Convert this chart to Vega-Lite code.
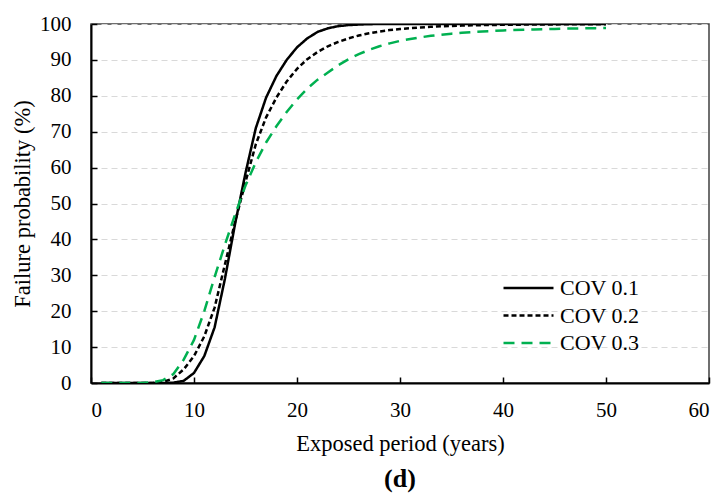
{
  "$schema": "https://vega.github.io/schema/vega-lite/v6.json",
  "width": 618,
  "height": 359,
  "autosize": {"type": "none"},
  "padding": {"left": 91, "top": 24, "right": 13, "bottom": 112},
  "background": "white",
  "title": {"text": "(d)", "orient": "bottom", "anchor": "middle", "frame": "group", "font": "Liberation Serif", "fontSize": 26, "fontWeight": "bold", "color": "black", "offset": 11},
  "config": {
    "view": {"stroke": "#404040", "strokeWidth": 1.5},
    "font": "Liberation Serif",
    "axis": {"labelFont": "Liberation Serif", "titleFont": "Liberation Serif", "labelColor": "black", "titleColor": "black", "labelFontSize": 21, "titleFontSize": 22.5, "titleFontWeight": "normal", "domainColor": "black", "domainWidth": 2, "tickColor": "black", "tickWidth": 1.5}
  },
  "data": {"values": [
    {"x":1,"p":0,"s":"COV 0.1"},{"x":2,"p":0,"s":"COV 0.1"},{"x":3,"p":0,"s":"COV 0.1"},{"x":4,"p":0,"s":"COV 0.1"},{"x":5,"p":0,"s":"COV 0.1"},{"x":6,"p":0,"s":"COV 0.1"},{"x":7,"p":0,"s":"COV 0.1"},{"x":8,"p":0.1,"s":"COV 0.1"},{"x":9,"p":0.6,"s":"COV 0.1"},{"x":10,"p":2.8,"s":"COV 0.1"},
    {"x":11,"p":7.5,"s":"COV 0.1"},{"x":12,"p":15.5,"s":"COV 0.1"},{"x":13,"p":29,"s":"COV 0.1"},{"x":14,"p":44.5,"s":"COV 0.1"},{"x":15,"p":58.5,"s":"COV 0.1"},{"x":16,"p":71,"s":"COV 0.1"},{"x":17,"p":79.5,"s":"COV 0.1"},{"x":18,"p":85.5,"s":"COV 0.1"},{"x":19,"p":90,"s":"COV 0.1"},{"x":20,"p":93.5,"s":"COV 0.1"},
    {"x":21,"p":96,"s":"COV 0.1"},{"x":22,"p":97.8,"s":"COV 0.1"},{"x":23,"p":98.8,"s":"COV 0.1"},{"x":24,"p":99.4,"s":"COV 0.1"},{"x":25,"p":99.7,"s":"COV 0.1"},{"x":26,"p":99.85,"s":"COV 0.1"},{"x":27,"p":99.95,"s":"COV 0.1"},{"x":28,"p":100,"s":"COV 0.1"},{"x":29,"p":100,"s":"COV 0.1"},{"x":30,"p":100,"s":"COV 0.1"},
    {"x":31,"p":100,"s":"COV 0.1"},{"x":32,"p":100,"s":"COV 0.1"},{"x":33,"p":100,"s":"COV 0.1"},{"x":34,"p":100,"s":"COV 0.1"},{"x":35,"p":100,"s":"COV 0.1"},{"x":36,"p":100,"s":"COV 0.1"},{"x":37,"p":100,"s":"COV 0.1"},{"x":38,"p":100,"s":"COV 0.1"},{"x":39,"p":100,"s":"COV 0.1"},{"x":40,"p":100,"s":"COV 0.1"},
    {"x":41,"p":100,"s":"COV 0.1"},{"x":42,"p":100,"s":"COV 0.1"},{"x":43,"p":100,"s":"COV 0.1"},{"x":44,"p":100,"s":"COV 0.1"},{"x":45,"p":100,"s":"COV 0.1"},{"x":46,"p":100,"s":"COV 0.1"},{"x":47,"p":100,"s":"COV 0.1"},{"x":48,"p":100,"s":"COV 0.1"},{"x":49,"p":100,"s":"COV 0.1"},{"x":50,"p":100,"s":"COV 0.1"},

    {"x":1,"p":0,"s":"COV 0.2"},{"x":2,"p":0,"s":"COV 0.2"},{"x":3,"p":0,"s":"COV 0.2"},{"x":4,"p":0,"s":"COV 0.2"},{"x":5,"p":0,"s":"COV 0.2"},{"x":6,"p":0,"s":"COV 0.2"},{"x":7,"p":0.3,"s":"COV 0.2"},{"x":8,"p":1.3,"s":"COV 0.2"},{"x":9,"p":3.8,"s":"COV 0.2"},{"x":10,"p":7.5,"s":"COV 0.2"},
    {"x":11,"p":13,"s":"COV 0.2"},{"x":12,"p":21,"s":"COV 0.2"},{"x":13,"p":33,"s":"COV 0.2"},{"x":14,"p":45,"s":"COV 0.2"},{"x":15,"p":56,"s":"COV 0.2"},{"x":16,"p":66.5,"s":"COV 0.2"},{"x":17,"p":74,"s":"COV 0.2"},{"x":18,"p":79.5,"s":"COV 0.2"},{"x":19,"p":84,"s":"COV 0.2"},{"x":20,"p":87.5,"s":"COV 0.2"},
    {"x":21,"p":90.2,"s":"COV 0.2"},{"x":22,"p":92.2,"s":"COV 0.2"},{"x":23,"p":93.8,"s":"COV 0.2"},{"x":24,"p":95,"s":"COV 0.2"},{"x":25,"p":96,"s":"COV 0.2"},{"x":26,"p":96.8,"s":"COV 0.2"},{"x":27,"p":97.4,"s":"COV 0.2"},{"x":28,"p":97.9,"s":"COV 0.2"},{"x":29,"p":98.3,"s":"COV 0.2"},{"x":30,"p":98.6,"s":"COV 0.2"},
    {"x":31,"p":98.85,"s":"COV 0.2"},{"x":32,"p":99.05,"s":"COV 0.2"},{"x":33,"p":99.2,"s":"COV 0.2"},{"x":34,"p":99.35,"s":"COV 0.2"},{"x":35,"p":99.45,"s":"COV 0.2"},{"x":36,"p":99.55,"s":"COV 0.2"},{"x":37,"p":99.62,"s":"COV 0.2"},{"x":38,"p":99.68,"s":"COV 0.2"},{"x":39,"p":99.73,"s":"COV 0.2"},{"x":40,"p":99.77,"s":"COV 0.2"},
    {"x":41,"p":99.8,"s":"COV 0.2"},{"x":42,"p":99.83,"s":"COV 0.2"},{"x":43,"p":99.85,"s":"COV 0.2"},{"x":44,"p":99.87,"s":"COV 0.2"},{"x":45,"p":99.89,"s":"COV 0.2"},{"x":46,"p":99.9,"s":"COV 0.2"},{"x":47,"p":99.91,"s":"COV 0.2"},{"x":48,"p":99.92,"s":"COV 0.2"},{"x":49,"p":99.93,"s":"COV 0.2"},{"x":50,"p":99.94,"s":"COV 0.2"},

    {"x":1,"p":0,"s":"COV 0.3"},{"x":2,"p":0,"s":"COV 0.3"},{"x":3,"p":0,"s":"COV 0.3"},{"x":4,"p":0,"s":"COV 0.3"},{"x":5,"p":0,"s":"COV 0.3"},{"x":6,"p":0.2,"s":"COV 0.3"},{"x":7,"p":0.8,"s":"COV 0.3"},{"x":8,"p":2.5,"s":"COV 0.3"},{"x":9,"p":6.5,"s":"COV 0.3"},{"x":10,"p":12,"s":"COV 0.3"},
    {"x":11,"p":20,"s":"COV 0.3"},{"x":12,"p":29.5,"s":"COV 0.3"},{"x":13,"p":38.5,"s":"COV 0.3"},{"x":14,"p":47,"s":"COV 0.3"},{"x":15,"p":55,"s":"COV 0.3"},{"x":16,"p":61.5,"s":"COV 0.3"},{"x":17,"p":67,"s":"COV 0.3"},{"x":18,"p":71.5,"s":"COV 0.3"},{"x":19,"p":75.5,"s":"COV 0.3"},{"x":20,"p":79,"s":"COV 0.3"},
    {"x":21,"p":82,"s":"COV 0.3"},{"x":22,"p":84.5,"s":"COV 0.3"},{"x":23,"p":86.5,"s":"COV 0.3"},{"x":24,"p":88.5,"s":"COV 0.3"},{"x":25,"p":90.2,"s":"COV 0.3"},{"x":26,"p":91.6,"s":"COV 0.3"},{"x":27,"p":92.8,"s":"COV 0.3"},{"x":28,"p":93.8,"s":"COV 0.3"},{"x":29,"p":94.6,"s":"COV 0.3"},{"x":30,"p":95.3,"s":"COV 0.3"},
    {"x":31,"p":95.8,"s":"COV 0.3"},{"x":32,"p":96.3,"s":"COV 0.3"},{"x":33,"p":96.7,"s":"COV 0.3"},{"x":34,"p":97,"s":"COV 0.3"},{"x":35,"p":97.3,"s":"COV 0.3"},{"x":36,"p":97.55,"s":"COV 0.3"},{"x":37,"p":97.75,"s":"COV 0.3"},{"x":38,"p":97.9,"s":"COV 0.3"},{"x":39,"p":98.05,"s":"COV 0.3"},{"x":40,"p":98.2,"s":"COV 0.3"},
    {"x":41,"p":98.3,"s":"COV 0.3"},{"x":42,"p":98.4,"s":"COV 0.3"},{"x":43,"p":98.5,"s":"COV 0.3"},{"x":44,"p":98.57,"s":"COV 0.3"},{"x":45,"p":98.64,"s":"COV 0.3"},{"x":46,"p":98.7,"s":"COV 0.3"},{"x":47,"p":98.75,"s":"COV 0.3"},{"x":48,"p":98.8,"s":"COV 0.3"},{"x":49,"p":98.85,"s":"COV 0.3"},{"x":50,"p":98.9,"s":"COV 0.3"}
  ]},
  "mark": {"type": "line", "strokeWidth": 2.5, "clip": true},
  "encoding": {
    "x": {"field": "x", "type": "quantitative", "scale": {"domain": [0, 60], "nice": false},
      "axis": {"title": "Exposed period (years)", "values": [0,10,20,30,40,50,60], "grid": false, "tickSize": -6, "labelPadding": 22, "titlePadding": 12}},
    "y": {"field": "p", "type": "quantitative", "scale": {"domain": [0, 100], "nice": false},
      "axis": {"title": "Failure probability (%)", "values": [0,10,20,30,40,50,60,70,80,90,100], "grid": true, "gridColor": "#d9d9d9", "gridDash": [6, 4], "gridWidth": 1.2, "tickSize": -6, "labelPadding": 26, "titlePadding": 5}},
    "color": {"field": "s", "type": "nominal", "scale": {"domain": ["COV 0.1","COV 0.2","COV 0.3"], "range": ["#000000","#000000","#00b050"]},
      "legend": {"title": null, "orient": "none", "legendX": 411, "legendY": 253, "symbolType": "stroke", "symbolSize": 2500, "symbolStrokeWidth": 2.5, "clipHeight": 22, "rowPadding": 5.5, "labelFont": "Liberation Serif", "labelFontSize": 22, "labelColor": "black", "labelOffset": 5, "padding": 0}},
    "strokeDash": {"field": "s", "type": "nominal", "scale": {"domain": ["COV 0.1","COV 0.2","COV 0.3"], "range": [[1,0],[5,3],[11,7]]},
      "legend": {"title": null, "orient": "none", "legendX": 411, "legendY": 253, "symbolType": "stroke", "symbolSize": 2500, "symbolStrokeWidth": 2.5, "clipHeight": 22, "rowPadding": 5.5, "labelFont": "Liberation Serif", "labelFontSize": 22, "labelColor": "black", "labelOffset": 5, "padding": 0}}
  }
}
